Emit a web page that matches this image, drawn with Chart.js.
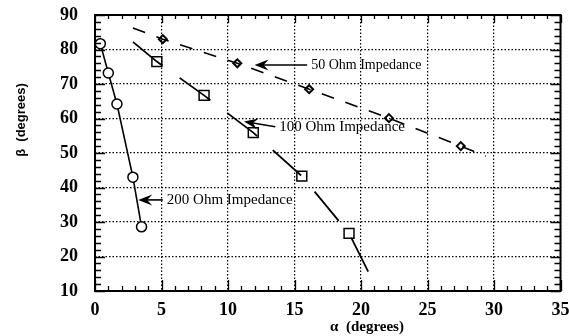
<!DOCTYPE html>
<html>
<head>
<meta charset="utf-8">
<script src="https://cdn.jsdelivr.net/npm/chart.js@4"></script>
<style>
  body { margin: 0; background: #fff; }
  canvas { display: block; }
</style>
</head>
<body>
<canvas id="myChart" width="569" height="336"></canvas>
<script>
// alpha / beta readings (degrees)
const ohm200Alpha = [0.4, 1.0, 1.65, 2.85, 3.5];
const ohm200Beta = [81.7, 73.2, 64.2, 43, 28.6];

const ohm100Alpha = [4.65, 8.2, 11.9, 15.55, 19.1];
const ohm100Beta = [76.5, 66.7, 55.9, 43.3, 26.7];
// fitted curve through the 100 Ohm points (ends run past the markers)
const ohm100CurveAlpha = [2.85, 4.65, 8.2, 11.9, 15.55, 19.1, 20.8];
const ohm100CurveBeta = [82.2, 76.5, 66.7, 55.9, 43.3, 26.7, 13.6];

const ohm50Alpha = [5.1, 10.7, 16.1, 22.1, 27.5];
const ohm50Beta = [83, 76, 68.5, 60.1, 52];
const ohm50CurveAlpha = [2.85, 5.1, 10.7, 16.1, 22.1, 27.5, 29.4];
const ohm50CurveBeta = [86.2, 83, 76, 68.5, 60.1, 52, 49.1];

const xTicks = [0, 5, 10, 15, 20, 25, 30, 35];
const yTicks = [10, 20, 30, 40, 50, 60, 70, 80, 90];

const labels = ['50 Ohm Impedance', '100 Ohm Impedance', '200 Ohm Impedance'];

function toPoints(xs, ys) {
  return xs.map((x, i) => ({x: x, y: ys[i]}));
}

// arrows + text, anchored in data units
const notes = [
  {text: labels[0], tip: [12.0, 75.5], tail: [15.95, 75.5], at: [16.25, 75.5], size: 14},
  {text: labels[1], tip: [11.2, 59.1], tail: [13.55, 57.6], at: [13.85, 57.6], size: 15},
  {text: labels[2], tip: [3.25, 36.4], tail: [5.1, 36.4], at: [5.4, 36.4], size: 15},
];

function drawArrow(ctx, x1, y1, x2, y2) {
  const ang = Math.atan2(y2 - y1, x2 - x1);
  ctx.save();
  ctx.strokeStyle = '#000';
  ctx.fillStyle = '#000';
  ctx.lineWidth = 1.6;
  ctx.beginPath();
  ctx.moveTo(x1, y1);
  ctx.lineTo(x2 - Math.cos(ang) * 6, y2 - Math.sin(ang) * 6);
  ctx.stroke();
  ctx.translate(x2, y2);
  ctx.rotate(ang);
  ctx.beginPath();
  ctx.moveTo(0, 0);
  ctx.lineTo(-14, -5.5);
  ctx.lineTo(-9, 0);
  ctx.lineTo(-14, 5.5);
  ctx.closePath();
  ctx.fill();
  ctx.restore();
}

const framePlugin = {
  id: 'frame',
  afterDatasetsDraw(chart) {
    const ctx = chart.ctx;
    const xs = chart.scales.x;
    const ys = chart.scales.y;
    ctx.save();
    notes.forEach(n => {
      drawArrow(ctx, xs.getPixelForValue(n.tail[0]), ys.getPixelForValue(n.tail[1]),
        xs.getPixelForValue(n.tip[0]), ys.getPixelForValue(n.tip[1]));
      ctx.font = n.size + 'px "Liberation Serif"';
      ctx.fillStyle = '#000';
      ctx.textBaseline = 'middle';
      ctx.textAlign = 'left';
      ctx.fillText(n.text, xs.getPixelForValue(n.at[0]), ys.getPixelForValue(n.at[1]));
    });
    ctx.restore();
  },
  afterDraw(chart) {
    const ctx = chart.ctx;
    const a = chart.chartArea;
    const xs = chart.scales.x;
    const ys = chart.scales.y;
    ctx.save();
    ctx.strokeStyle = '#000';
    ctx.lineWidth = 1.3;
    ctx.beginPath();
    // inward ticks on all four sides
    for (let v = 0; v <= 35; v += 1) {
      const px = Math.round(xs.getPixelForValue(v)) + 0.5;
      const len = v % 5 === 0 ? 11 : 5;
      ctx.moveTo(px, a.bottom); ctx.lineTo(px, a.bottom - len);
      ctx.moveTo(px, a.top); ctx.lineTo(px, a.top + (v % 5 === 0 ? 8 : 4));
    }
    for (let v = 10; v <= 90; v += 2) {
      const py = Math.round(ys.getPixelForValue(v)) + 0.5;
      const len = v % 10 === 0 ? 10 : 6;
      ctx.moveTo(a.left, py); ctx.lineTo(a.left + len, py);
      ctx.moveTo(a.right, py); ctx.lineTo(a.right - len, py);
    }
    ctx.stroke();
    ctx.lineWidth = 2;
    ctx.strokeRect(a.left, a.top, a.right - a.left, a.bottom - a.top);

    // axis titles
    ctx.fillStyle = '#000';
    ctx.textAlign = 'center';
    ctx.textBaseline = 'middle';
    ctx.font = 'bold 15px "Liberation Serif"';
    ctx.fillText('α  (degrees)', 367, 327);
    ctx.translate(21, 120);
    ctx.rotate(-Math.PI / 2);
    ctx.font = 'bold 13px "Liberation Sans"';
    ctx.fillText('β  (degrees)', 0, 0);
    ctx.restore();
  }
};

Chart.defaults.color = '#000';

const ctx = document.getElementById('myChart').getContext('2d');
const myChart = new Chart(ctx, {
  type: 'scatter',
  data: {
    datasets: [
      {
        label: '200 Ohm',
        data: toPoints(ohm200Alpha, ohm200Beta),
        showLine: true,
        borderColor: '#000',
        borderWidth: 1.6,
        pointStyle: 'circle',
        pointRadius: 5,
        pointBorderWidth: 1.5,
        pointBackgroundColor: '#fff',
        pointBorderColor: '#000'
      },
      {
        label: '100 Ohm curve',
        data: toPoints(ohm100CurveAlpha, ohm100CurveBeta),
        showLine: true,
        borderColor: '#000',
        borderWidth: 1.8,
        borderDash: [38, 21],
        pointRadius: 0
      },
      {
        label: '100 Ohm',
        data: toPoints(ohm100Alpha, ohm100Beta),
        showLine: false,
        pointStyle: 'rect',
        pointRadius: 7,
        pointBorderWidth: 1.5,
        pointBackgroundColor: 'rgba(0,0,0,0)',
        pointBorderColor: '#000'
      },
      {
        label: '50 Ohm curve',
        data: toPoints(ohm50CurveAlpha, ohm50CurveBeta),
        showLine: true,
        borderColor: '#000',
        borderWidth: 1.6,
        borderDash: [13, 12],
        pointRadius: 0
      },
      {
        label: '50 Ohm',
        data: toPoints(ohm50Alpha, ohm50Beta),
        showLine: false,
        pointStyle: 'rectRot',
        pointRadius: 4,
        pointBorderWidth: 2,
        pointBackgroundColor: 'rgba(0,0,0,0)',
        pointBorderColor: '#000'
      }
    ]
  },
  options: {
    responsive: false,
    animation: false,
    layout: { padding: { top: 15, right: 7, left: 0, bottom: 0 } },
    plugins: { legend: { display: false }, tooltip: { enabled: false } },
    scales: {
      x: {
        type: 'linear',
        min: 0,
        max: 35,
        afterBuildTicks: s => { s.ticks = xTicks.map(v => ({value: v})); },
        afterFit: s => { s.height = 45; s.paddingLeft = 0; s.paddingRight = 0; },
        grid: { color: '#000', lineWidth: 1.2, drawTicks: false },
        border: { display: false, dash: [1.5, 2] },
        ticks: { padding: 9, font: { family: 'Liberation Serif', size: 18, weight: 'bold' }, maxRotation: 0 }
      },
      y: {
        type: 'linear',
        min: 10,
        max: 90,
        afterBuildTicks: s => { s.ticks = yTicks.map(v => ({value: v})); },
        afterFit: s => { s.width = 95; s.paddingTop = 0; s.paddingBottom = 0; },
        grid: { color: '#000', lineWidth: 1.2, drawTicks: false },
        border: { display: false, dash: [1.5, 2] },
        ticks: { padding: 17, font: { family: 'Liberation Serif', size: 18, weight: 'bold' } }
      }
    }
  },
  plugins: [framePlugin]
});
</script>
</body>
</html>
